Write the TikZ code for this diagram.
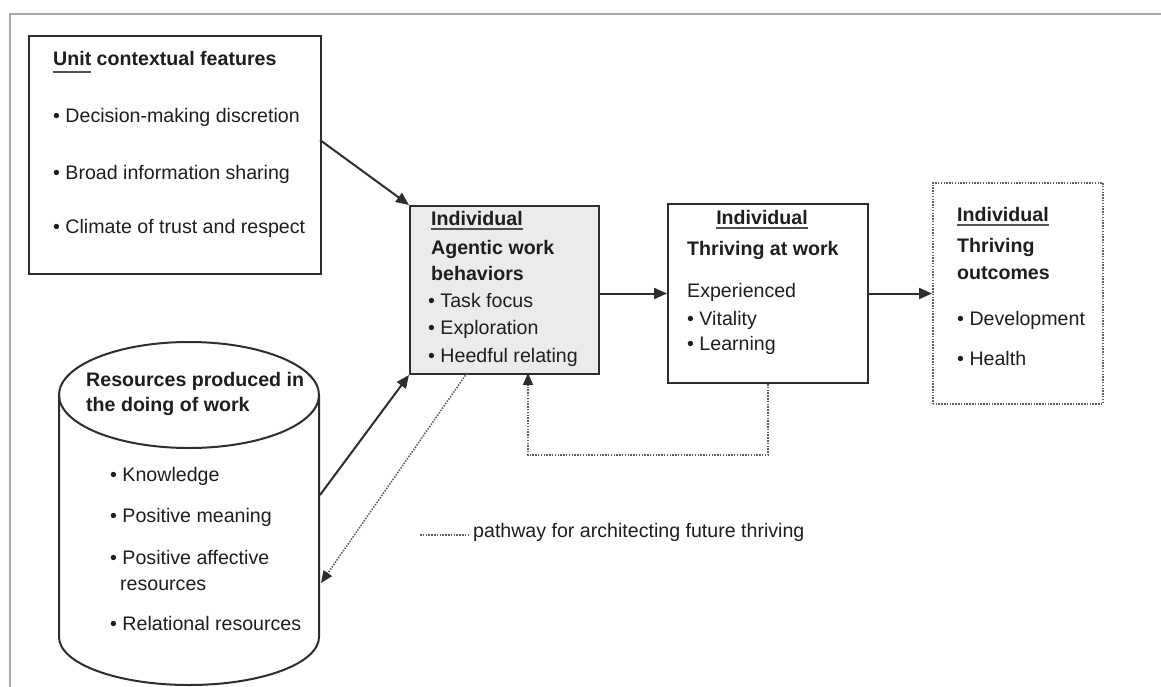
\documentclass[tikz,border=0pt]{standalone}
\usepackage{fontspec}
\setmainfont{Liberation Sans}
\usetikzlibrary{arrows.meta}
\definecolor{ink}{HTML}{1E1E1E}
\definecolor{edge}{HTML}{2E2E2E}
\definecolor{framec}{HTML}{A8A8A8}
\definecolor{fillg}{HTML}{EBEBEB}
\definecolor{dotc}{HTML}{606060}
\definecolor{ulc}{HTML}{505050}
\newcommand\myul[2][-4.5pt]{\setbox0\hbox{#2}\rlap{\textcolor{ulc}{\rule[#1]{\wd0}{1.8pt}}}\box0\relax}
\begin{document}
\begin{tikzpicture}[x=1pt,y=-1pt,
  box/.style={draw=edge, line width=2pt, inner sep=0pt, anchor=north west},
  txt/.style={anchor=mid west, inner sep=0pt, text=ink, font=\fontsize{19.6}{24}\selectfont},
  hd/.style={anchor=mid west, inner sep=0pt, text=ink, font=\fontsize{19.6}{24}\selectfont\bfseries},
  arr/.style={draw=edge, line width=2pt, -{Triangle[length=13pt,width=11pt,color=edge]}},
  dotl/.style={draw=dotc, line width=1.6pt, dash pattern=on 1.5pt off 1.3pt},
  darr/.style={dotl, -{Triangle[length=12pt,width=10pt,color=edge]}}]
\useasboundingbox (0,0) rectangle (1161,687);
\fill[white] (0,0) rectangle (1161,687);
% frame
\draw[framec, line width=1.5pt] (10,687) -- (10,14) -- (1161,14);

% unit contextual features
\node[box, minimum width=292pt, minimum height=238pt] (unit) at (28,35) {};
\node[hd] (unitT) at (53,63) {\myul[-7pt]{Unit} contextual features};
\node[txt] (unitA) at (53,120) {• Decision-making discretion};
\node[txt] (unitB) at (53,177) {• Broad information sharing};
\node[txt] (unitC) at (53,231) {• Climate of trust and respect};

% agentic work behaviors
\node[box, fill=fillg, minimum width=189pt, minimum height=168pt] (agent) at (409,205) {};
\node[hd] (agT1) at (431,223) {\myul{Individual}};
\node[hd] (agT2) at (431,252) {Agentic work};
\node[hd] (agT3) at (431,278) {behaviors};
\node[txt] (agA) at (428,305) {• Task focus};
\node[txt] (agB) at (428,332) {• Exploration};
\node[txt] (agC) at (428,360) {• Heedful relating};

% thriving at work
\node[box, minimum width=200pt, minimum height=179pt] (thr) at (667,203) {};
\node[hd, anchor=mid] (thT1) at (762,222) {\myul{Individual}};
\node[hd] (thT2) at (687,253) {Thriving at work};
\node[txt] (thA) at (687,295) {Experienced};
\node[txt] (thB) at (687,323) {• Vitality};
\node[txt] (thC) at (687,348) {• Learning};

% thriving outcomes
\node[box, dotl, minimum width=170pt, minimum height=221pt] (out) at (932,182) {};
\node[hd] (ouT1) at (957,219) {\myul{Individual}};
\node[hd] (ouT2) at (957,250) {Thriving};
\node[hd] (ouT3) at (957,277) {outcomes};
\node[txt] (ouA) at (957,323) {• Development};
\node[txt] (ouB) at (957,363) {• Health};

% resources cylinder
\node[inner sep=0pt, minimum width=260pt, minimum height=344pt, anchor=north west] (res) at (59,341) {};
\draw[edge, line width=2pt] (189,395) ellipse [x radius=130pt, y radius=53pt];
\draw[edge, line width=2pt] (59,395) -- (59,637) arc[start angle=180, end angle=360, x radius=130pt, y radius=48pt] -- (319,395);
\node[hd] (reT1) at (86,384) {Resources produced in};
\node[hd] (reT2) at (86,409) {the doing of work};
\node[txt] (reA) at (110,479) {• Knowledge};
\node[txt] (reB) at (110,520) {• Positive meaning};
\node[txt] (reC) at (110,562) {• Positive affective};
\node[txt] (reC2) at (120,588) {resources};
\node[txt] (reD) at (110,628) {• Relational resources};

% connectors
\coordinate (unitout) at (320,140);
\coordinate (resout) at (320,495);
\coordinate (resin) at (321,583);
\coordinate (agdot) at (467,373);
\coordinate (fbin) at (528,373);
\draw[arr] (unitout) -- (agent.north west);
\draw[arr] (resout) -- (agent.south west);
\draw[arr] (agent.east |- thr.west) -- (thr.west);
\draw[arr] (thr.east) -- (thr.east -| out.west);
\draw[darr] (agdot) -- (resin);
\draw[darr] (thr.south) -- ++(0,71) -| (fbin);

% legend
\coordinate (lg1) at (420,535);
\coordinate (lg2) at (468,535);
\draw[dotl] (lg1) -- (lg2);
\node[txt] (lgT) at (473,535) {pathway for architecting future thriving};
\end{tikzpicture}
\end{document}
